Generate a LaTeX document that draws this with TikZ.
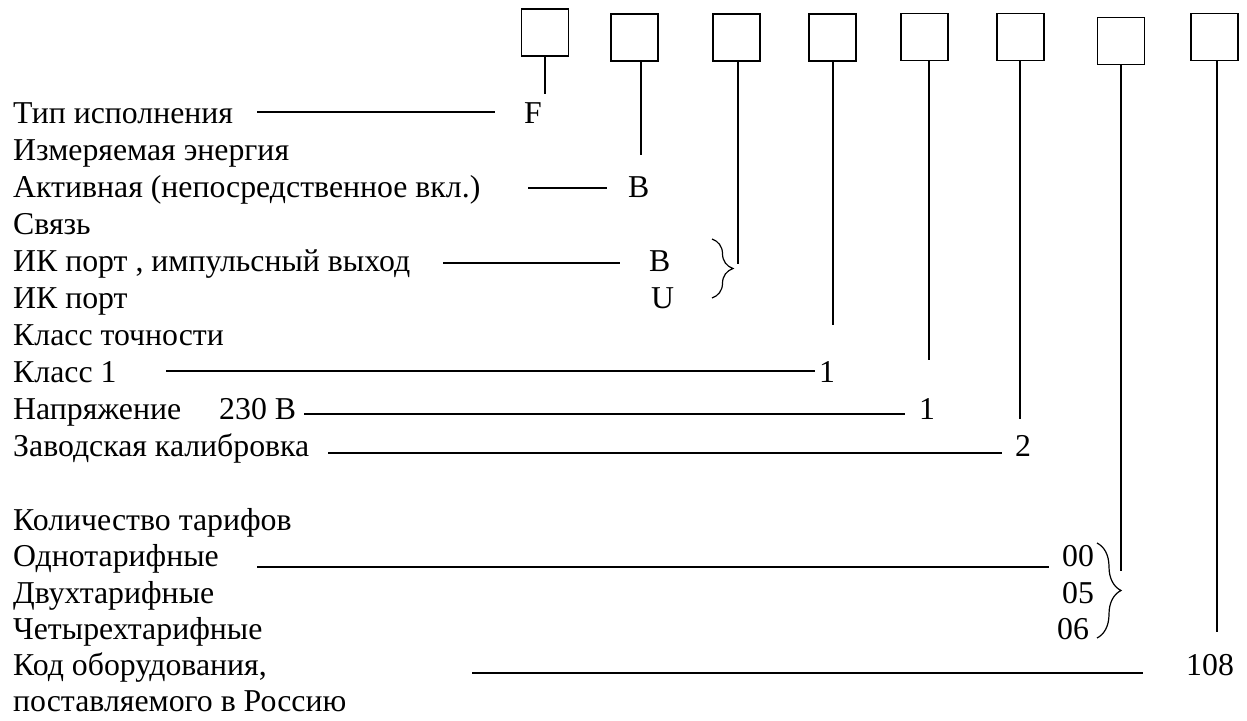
\documentclass[tikz,border=0pt]{standalone}
\usepackage{fontspec}
\setmainfont{Liberation Serif}
\usetikzlibrary{decorations.pathreplacing}
\tikzset{
  libelle/.style={anchor=base west, inner sep=0pt, font=\fontsize{31.8pt}{37pt}\selectfont},
  code/.style={libelle},
  case/.style={rectangle, draw, line width=1.5pt, minimum size=47pt, inner sep=0pt},
  lien/.style={line width=1.5pt},
  accolade/.style={line width=1.2pt, decorate, decoration={brace, amplitude=#1}}
}

\begin{document}
\begin{tikzpicture}[x=1pt, y=-1pt]
    \useasboundingbox (0,0) rectangle (1247,720);

    % Cases du code et traits verticaux
    \foreach \i/\cx/\cy/\lx/\ly in {1/545/32.5/545/94, 2/634.5/37.5/641/155,
        3/736.5/37.5/738/264, 4/832.5/37.5/833/325, 5/924.5/37/929/360,
        6/1020.5/37/1020/419, 7/1121/41/1121/571, 8/1214.5/37/1217/632} {
      \node[case] (b\i) at (\cx, \cy) {};
      \coordinate (e\i) at (\lx, \ly);
      \draw[lien] (b\i.south -| e\i) -- (e\i);
    }

    % Libelles
    \foreach \y/\texte/\id in {123/Тип исполнения/t1, 160/Измеряемая энергия/t2,
        197/Активная (непосредственное вкл.)/t3, 234/Связь/t4,
        271/{ИК порт , импульсный выход}/t5, 308/ИК порт/t6,
        345/Класс точности/t7, 382/Класс 1/t8,
        419/Напряжение\hspace{38pt}230 В/t9, 456/Заводская калибровка/t10,
        530/Количество тарифов/t12, 566/Однотарифные/t13,
        603/Двухтарифные/t14, 639/Четырехтарифные/t15,
        675/{Код оборудования,}/t16, 711/поставляемого в Россию/t17} {
      \node[libelle] (\id) at (13, \y) {\texte};
    }

    % Valeurs
    \node[code] (cF)   at (524, 123)  {F};
    \node[code] (cB1)  at (628, 197)  {B};
    \node[code] (cB2)  at (649, 271)  {B};
    \node[code] (cU)   at (651, 308)  {U};
    \node[code] (c1a)  at (819, 382)  {1};
    \node[code] (c1b)  at (919, 419)  {1};
    \node[code] (c2)   at (1015, 456) {2};
    \node[code] (c00)  at (1062, 566) {00};
    \node[code] (c05)  at (1062, 603) {05};
    \node[code] (c06)  at (1057, 639) {06};
    \node[code] (c108) at (1186, 675) {108};

    % Traits horizontaux
    \draw[lien] ([shift={(244,-11)}]t1.base west) -- ([shift={(-29,-11)}]cF.base west);
    \draw[lien] ([shift={(515,-9)}]t3.base west) -- ([shift={(-21,-9)}]cB1.base west);
    \draw[lien] ([shift={(430,-8)}]t5.base west) -- ([shift={(-29,-8)}]cB2.base west);
    \draw[lien] ([shift={(153,-11)}]t8.base west) -- ([shift={(-4,-11)}]c1a.base west);
    \draw[lien] ([shift={(291,-5)}]t9.base west) -- ([shift={(-14,-5)}]c1b.base west);
    \draw[lien] ([shift={(315,-3)}]t10.base west) -- ([shift={(-13,-3)}]c2.base west);
    \draw[lien] ([shift={(244,1)}]t13.base west) -- ([shift={(-13,1)}]c00.base west);
    \draw[lien] ([shift={(459,-2)}]t16.base west) -- ([shift={(-43,-2)}]c108.base west);

    % Accolades
    \draw[accolade=21pt] (712, 239) -- (712, 298);
    \draw[accolade=24pt] (1097, 543) -- (1097, 638);
\end{tikzpicture}
\end{document}
